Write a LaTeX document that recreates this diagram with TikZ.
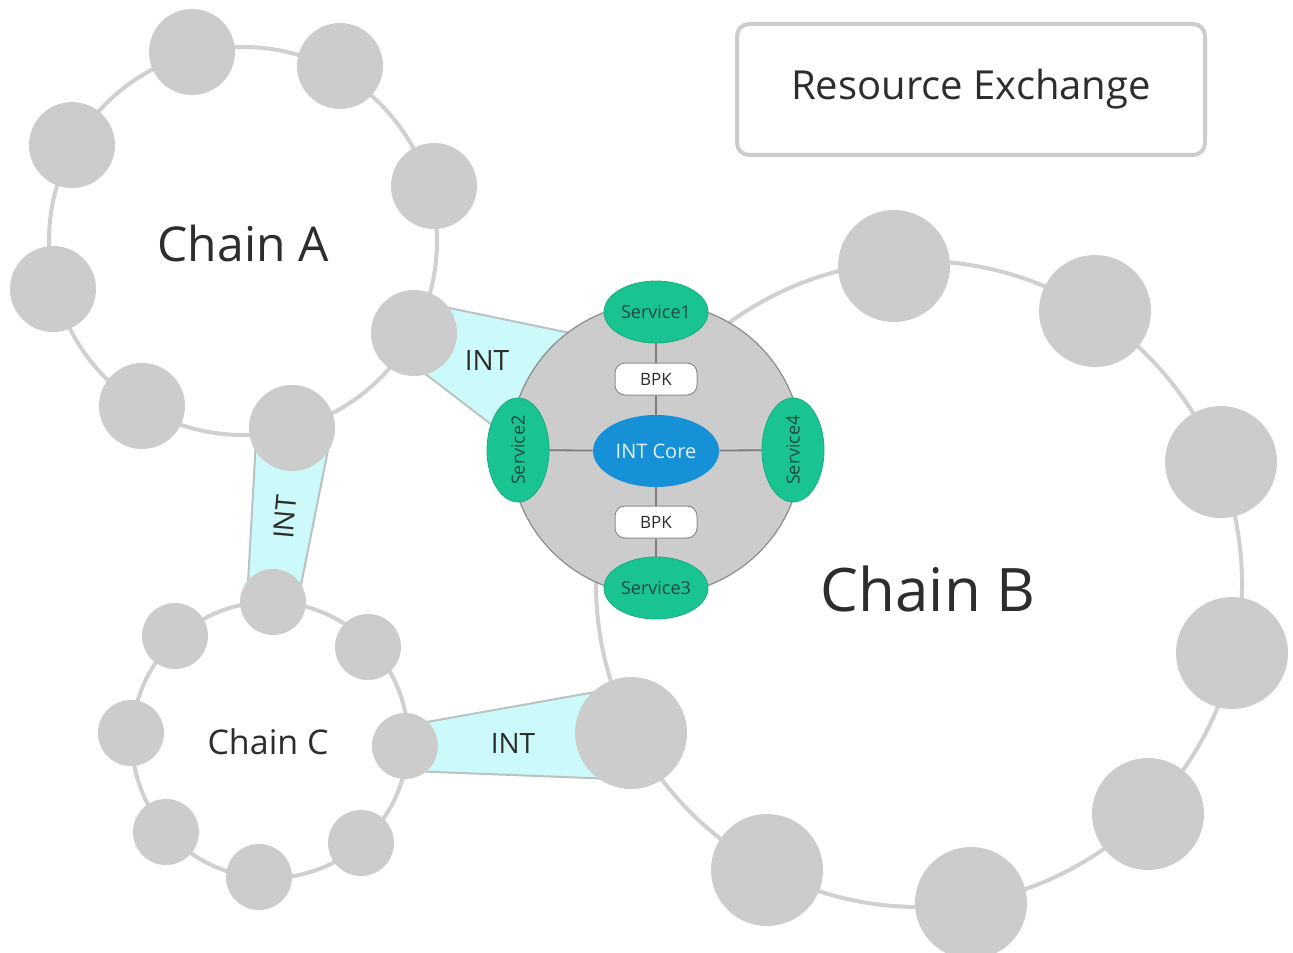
\documentclass[tikz,border=0pt]{standalone}
\usepackage{fontspec}
\setmainfont{Open Sans}
\usetikzlibrary{shapes.geometric}
\definecolor{ngray}{RGB}{204,204,204}
\definecolor{ringgray}{RGB}{208,208,208}
\definecolor{svcgreen}{RGB}{26,196,146}
\definecolor{svcborder}{RGB}{22,172,128}
\definecolor{svctext}{RGB}{30,72,60}
\definecolor{coreblue}{RGB}{22,144,214}
\definecolor{coretext}{RGB}{230,242,252}
\definecolor{intcyan}{RGB}{204,250,250}
\definecolor{intborder}{RGB}{185,195,195}
\definecolor{txt}{RGB}{45,45,45}
\definecolor{linegray}{RGB}{125,125,125}
\definecolor{diskborder}{RGB}{140,140,140}
\begin{document}
\begin{tikzpicture}[x=0.5pt,y=-0.5pt,
  ring/.style={draw=ringgray, line width=2pt},
  nA/.style={circle, fill=ngray, inner sep=0pt, minimum size=43pt},
  nB/.style={circle, fill=ngray, inner sep=0pt, minimum size=56pt},
  nC/.style={circle, fill=ngray, inner sep=0pt, minimum size=33pt},
  intband/.style={fill=intcyan, draw=intborder, line width=1pt, line join=round},
  coredisk/.style={circle, fill=ngray, draw=diskborder, line width=0.6pt, inner sep=0pt, minimum size=146pt},
  svc/.style={ellipse, fill=svcgreen, draw=svcborder, line width=0.4pt, inner sep=0pt,
    minimum width=52pt, minimum height=31pt, text=svctext, font=\fontsize{9}{10}\selectfont},
  coreell/.style={ellipse, fill=coreblue, inner sep=0pt, minimum width=63pt, minimum height=36pt,
    text=coretext, font=\fontsize{10}{12}\selectfont},
  bpkbox/.style={rectangle, rounded corners=5pt, fill=white, draw=diskborder, line width=0.5pt,
    minimum width=41pt, minimum height=16pt, inner sep=0pt, text=txt, font=\fontsize{8.5}{10}\selectfont},
  inline/.style={draw=linegray, line width=0.9pt},
  lbl/.style={text=txt, inner sep=0pt},
  resbox/.style={rectangle, rounded corners=6pt, draw=ngray, line width=2pt, fill=white,
    minimum width=234pt, minimum height=65.5pt, text=txt, font=\fontsize{20}{24}\selectfont}
]
\useasboundingbox (0,0) rectangle (1293,952);

% rings
\draw[ring] (243,241) circle[radius=97pt];
\draw[ring] (919,584) circle[radius=161.5pt];
\draw[ring] (270,740) circle[radius=69pt];

% INT bands
\draw[intband] (430,304) -- (575,334) -- (505,435) -- (415,366) -- cycle;
\draw[intband] (256,440) -- (330,440) -- (298,600) -- (247,600) -- cycle;
\draw[intband] (410,725) -- (640,684) -- (640,780) -- (410,771) -- cycle;

% Chain A
\node[nA] (a1) at (192,52) {};
\node[nA] (a2) at (340,66) {};
\node[nA] (a3) at (434,186) {};
\node[nA] (a4) at (414,333) {};
\node[nA] (a5) at (292,428) {};
\node[nA] (a6) at (142,406) {};
\node[nA] (a7) at (53,289) {};
\node[nA] (a8) at (72,145) {};

% Chain B
\node[nB] (b1) at (894,266) {};
\node[nB] (b2) at (1095,311) {};
\node[nB] (b3) at (1221,462) {};
\node[nB] (b4) at (1232,653) {};
\node[nB] (b5) at (1148,814) {};
\node[nB] (b6) at (971,903) {};
\node[nB] (b7) at (767,870) {};
\node[nB] (b8) at (631,733) {};

% Chain C
\node[nC] (c1) at (273,602) {};
\node[nC] (c2) at (368,647) {};
\node[nC] (c3) at (405,746) {};
\node[nC] (c4) at (361,843) {};
\node[nC] (c5) at (259,877) {};
\node[nC] (c6) at (166,832) {};
\node[nC] (c7) at (131,733) {};
\node[nC] (c8) at (175,636) {};

% core
\node[coredisk] (disk) at (656,449) {};
\node[coreell] (core) at (656,451) {INT Core};
\node[bpkbox] (bpk1) at (656,379) {BPK};
\node[bpkbox] (bpk2) at (656,522) {BPK};
\node[svc] (s1) at (656,312) {Service1};
\node[svc] (s3) at (656,588) {Service3};
\node[svc, rotate=90] (s2) at (518,450) {Service2};
\node[svc, rotate=90] (s4) at (793,450) {Service4};

\draw[inline] (s1) -- (bpk1);
\draw[inline] (bpk1) -- (core);
\draw[inline] (core) -- (bpk2);
\draw[inline] (bpk2) -- (s3);
\draw[inline] (s2) -- (core);
\draw[inline] (core) -- (s4);

% labels
\node[lbl, font=\fontsize{14}{16}\selectfont] (int1) at (487,361) {INT};
\node[lbl, font=\fontsize{14}{16}\selectfont, rotate=85] (int2) at (285,517) {INT};
\node[lbl, font=\fontsize{14}{16}\selectfont] (int3) at (513,743) {INT};

\node[lbl, font=\fontsize{24}{28}\selectfont] (chA) at (243,243) {Chain A};
\node[lbl, font=\fontsize{30}{34}\selectfont] (chB) at (928,589) {Chain B};
\node[lbl, font=\fontsize{17}{20}\selectfont] (chC) at (268,742) {Chain C};

\node[resbox] (res) at (971,89.5) {Resource Exchange};
\end{tikzpicture}
\end{document}
